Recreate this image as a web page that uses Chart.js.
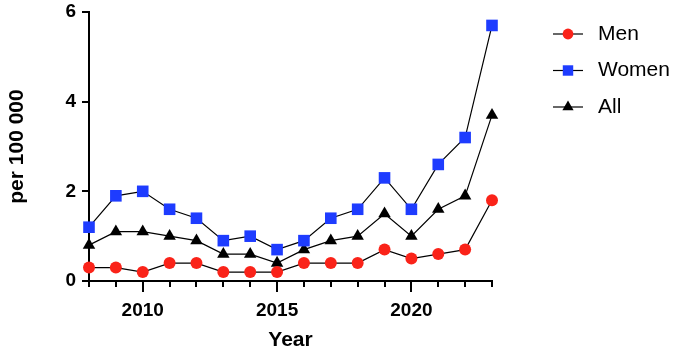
<!DOCTYPE html>
<html>
<head>
<meta charset="utf-8">
<script src="https://cdn.jsdelivr.net/npm/chart.js@4/dist/chart.umd.min.js"></script>
<style>
html,body{margin:0;padding:0;background:#fff;}
#wrap{width:677px;height:354px;}
</style>
</head>
<body>
<div id="wrap"><canvas id="c" width="677" height="354"></canvas></div>
<script>
const years = [2008,2009,2010,2011,2012,2013,2014,2015,2016,2017,2018,2019,2020,2021,2022,2023];
const men   = [0.3,0.3,0.2,0.4,0.4,0.2,0.2,0.2,0.4,0.4,0.4,0.7,0.5,0.6,0.7,1.8];
const women = [1.2,1.9,2.0,1.6,1.4,0.9,1.0,0.7,0.9,1.4,1.6,2.3,1.6,2.6,3.2,5.7];
const all   = [0.8,1.1,1.1,1.0,0.9,0.6,0.6,0.4,0.7,0.9,1.0,1.5,1.0,1.6,1.9,3.7];
const seriesLabels = ['Men','Women','All'];
const xTickLabels = [2010, 2015, 2020];
const yTicks = [0, 2, 4, 6];

const FONT = "'Liberation Sans', Arial, Helvetica, sans-serif";
const RED = 'rgb(250,35,25)';
const BLUE = 'rgb(30,60,255)';

function toXY(vals){ return vals.map((v,i)=>({x: years[i], y: v})); }

const styles = [
  {color: RED, pointStyle: 'circle', radius: 6},
  {color: BLUE, pointStyle: 'rect', radius: 8.2},
  {color: '#000', pointStyle: 'triangle', radius: 7.2}
];
const seriesValues = [men, women, all];

const datasets = seriesValues.map((vals, i) => ({
  label: seriesLabels[i],
  data: toXY(vals),
  borderColor: '#000',
  borderWidth: 1.2,
  pointStyle: styles[i].pointStyle,
  pointRadius: styles[i].radius,
  pointHoverRadius: styles[i].radius,
  pointBackgroundColor: styles[i].color,
  pointBorderColor: styles[i].color,
  pointBorderWidth: 0,
  tension: 0,
  clip: false,
  order: i
}));

const majorTickPlugin = {
  id: 'majorTicks',
  afterDraw(chart){
    const ctx = chart.ctx;
    const xs = chart.scales.x;
    const y0 = chart.chartArea.bottom;
    ctx.save();
    ctx.strokeStyle = '#000';
    ctx.lineWidth = 2;
    xTickLabels.forEach(v => {
      const px = Math.round(xs.getPixelForValue(v));
      ctx.beginPath();
      ctx.moveTo(px, y0 + 6);
      ctx.lineTo(px, y0 + 11);
      ctx.stroke();
    });
    ctx.restore();
  }
};

const legendPlugin = {
  id: 'customLegend',
  afterDraw(chart){
    const ctx = chart.ctx;
    const lx0 = 553, lx1 = 583, mx = 568, tx = 598, ty0 = 34, dy = 36.5;
    ctx.save();
    chart.data.datasets.forEach((ds, i) => {
      const y = ty0 + i * dy;
      ctx.strokeStyle = '#000';
      ctx.lineWidth = 1.2;
      ctx.beginPath();
      ctx.moveTo(lx0, y); ctx.lineTo(lx1, y); ctx.stroke();
      ctx.fillStyle = ds.pointBackgroundColor;
      ctx.strokeStyle = ds.pointBorderColor;
      Chart.helpers.drawPoint(ctx, {pointStyle: ds.pointStyle, rotation: 0, radius: ds.pointRadius * 0.9, borderWidth: 0}, mx, y);
      ctx.fillStyle = '#000';
      ctx.font = '21px ' + FONT;
      ctx.textBaseline = 'middle';
      ctx.textAlign = 'left';
      ctx.fillText(ds.label, tx, y);
    });
    ctx.restore();
  }
};

new Chart(document.getElementById('c'), {
  type: 'line',
  data: { datasets },
  options: {
    responsive: false,
    animation: false,
    events: [],
    layout: { padding: { top: 12, right: 185, left: 0, bottom: 0 } },
    plugins: { legend: { display: false }, tooltip: { enabled: false } },
    scales: {
      x: {
        type: 'linear',
        min: years[0],
        max: years[years.length - 1],
        afterFit(s){ s.height = 73; s.paddingLeft = 0; s.paddingRight = 0; },
        afterBuildTicks(s){ s.ticks = years.map(v => ({value: v})); },
        ticks: {
          autoSkip: false,
          maxRotation: 0,
          padding: 12,
          color: '#000',
          font: { family: FONT, size: 19, weight: 'bold' },
          callback: v => xTickLabels.includes(v) ? String(v) : ''
        },
        grid: { display: true, drawOnChartArea: false, drawTicks: true, tickLength: 6, color: '#000', lineWidth: 2 },
        border: { display: true, color: '#000', width: 2 },
        title: { display: true, text: 'Year', color: '#000', font: { family: FONT, size: 21, weight: 'bold' }, padding: { top: 0, bottom: 1 } }
      },
      y: {
        min: 0,
        max: 6,
        afterFit(s){ s.width = 89; s.paddingTop = 0; s.paddingBottom = 0; },
        afterBuildTicks(s){ s.ticks = yTicks.map(v => ({value: v})); },
        ticks: {
          padding: 6,
          color: '#000',
          font: { family: FONT, size: 19, weight: 'bold' }
        },
        grid: { display: true, drawOnChartArea: false, drawTicks: true, tickLength: 7, color: '#000', lineWidth: 2 },
        border: { display: true, color: '#000', width: 2 },
        title: { display: true, text: 'per 100 000', color: '#000', font: { family: FONT, size: 21, weight: 'bold' }, padding: { top: 5, bottom: 0 } }
      }
    }
  },
  plugins: [majorTickPlugin, legendPlugin]
});
</script>
</body>
</html>
